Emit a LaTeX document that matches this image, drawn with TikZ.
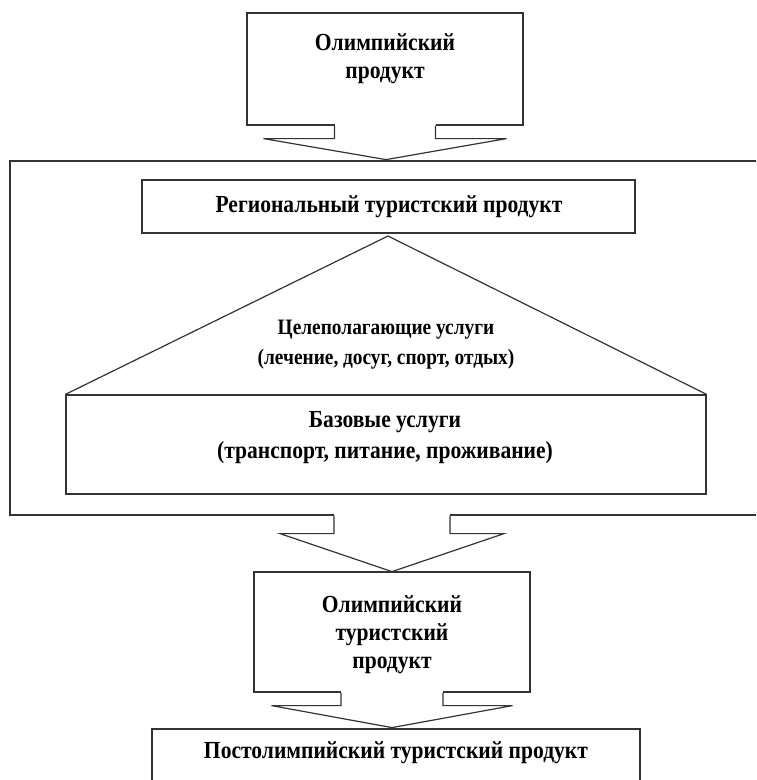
\documentclass[tikz,border=0pt]{standalone}
\usepackage{fontspec}
\setmainfont[FakeStretch=0.88]{Liberation Serif}
\usetikzlibrary{calc}
\tikzset{
  frame/.style={draw=black!80, line width=1.2pt, fill=white, inner sep=0pt, rectangle},
  lbl/.style={align=center, inner sep=0pt, font=\bfseries\fontsize{24.5}{28}\selectfont},
  smalllbl/.style={align=center, inner sep=0pt, font=\bfseries\fontsize{22}{30}\selectfont},
  outline/.style={draw=black!80, line width=1.2pt, line join=miter},
}
\begin{document}
\begin{tikzpicture}[x=1pt,y=-1pt]
\useasboundingbox (0,0) rectangle (756,780);
\clip (0,0) rectangle (756,780);
% frames
\node[frame, minimum width=276pt, minimum height=112pt] (top) at (385,69) {};
\node[frame, minimum width=750pt, minimum height=354pt] (big) at (385,338) {};
\node[frame, minimum width=493pt, minimum height=53pt] (reg) at (388.5,206.5) {};
\coordinate (apex) at (388,236);
\node[frame, minimum width=640pt, minimum height=99pt] (base) at (386,444.5) {};
\draw[outline] (base.north west) -- (apex) -- (base.north east);
\node[frame, minimum width=276pt, minimum height=120pt] (olymp) at (392,632) {};
\node[frame, minimum width=488pt, minimum height=90pt] (post) at (396,774) {};
% block arrows
\fill[white] ($(top.south)+(-50.5,-1.5)$) rectangle ($(top.south)+(50.5,13)$);
\draw[outline] ($(top.south)+(-50.5,0)$) -- ++(0,13) -- ++(-71,0)
  -- ($(top.south)+(1,34)$) -- ($(top.south)+(121.5,13)$) -- ++(-71,0) -- ++(0,-13);
\coordinate (mid) at (big.south -| olymp.north);
\fill[white] ($(mid)+(-58,-1.5)$) rectangle ($(mid)+(58,18)$);
\draw[outline] ($(mid)+(-58,0)$) -- ++(0,18) -- ++(-54,0)
  -- ($(mid)+(0,56)$) -- ($(mid)+(112,18)$) -- ++(-54,0) -- ++(0,-18);
\fill[white] ($(olymp.south)+(-51,-1.5)$) rectangle ($(olymp.south)+(51,13)$);
\draw[outline] ($(olymp.south)+(-51,0)$) -- ++(0,13) -- ++(-69.5,0)
  -- ($(olymp.south)+(0,35)$) -- ($(olymp.south)+(120.5,13)$) -- ++(-69.5,0) -- ++(0,-13);
% texts
\node[lbl] (t1) at (385,59) {Олимпийский\\продукт};
\node[lbl] (t2) at (389,207) {Региональный туристский продукт};
\node[smalllbl] (t3) at (386,345) {Целеполагающие услуги\\(лечение, досуг, спорт, отдых)};
\node[lbl, font=\bfseries\fontsize{24.5}{31}\selectfont] (t4) at (385,438) {Базовые услуги\\(транспорт, питание, проживание)};
\node[lbl] (t5) at (392,635) {Олимпийский\\туристский\\продукт};
\node[lbl] (t6) at (396,753) {Постолимпийский туристский продукт};
\end{tikzpicture}
\end{document}
